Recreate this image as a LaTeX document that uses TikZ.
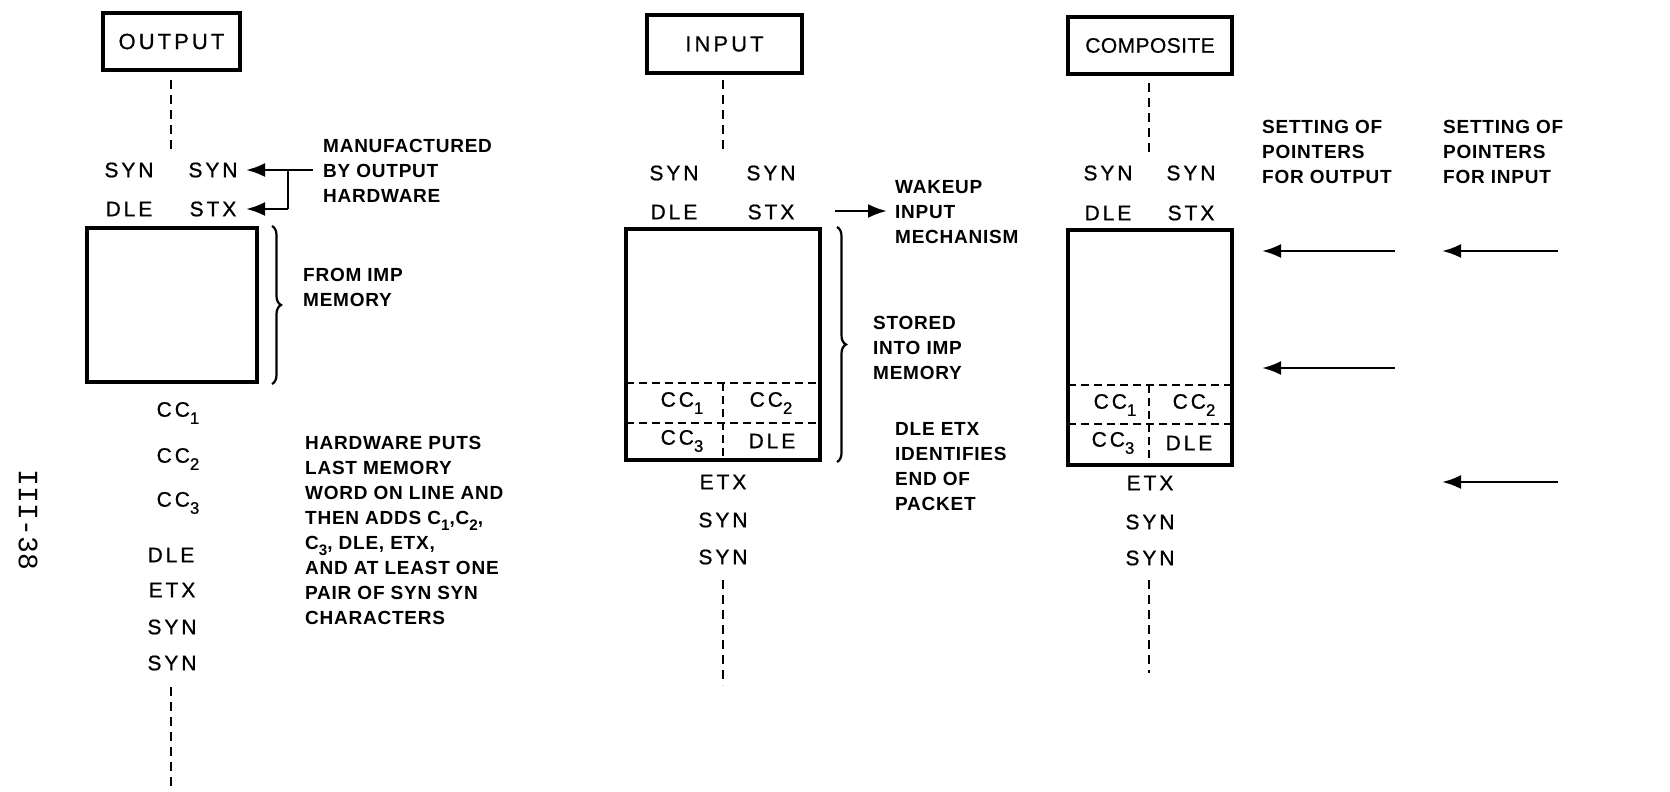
\documentclass[tikz,border=0pt]{standalone}
\usepackage{fontspec}
\setmainfont{Liberation Sans}
\newfontfamily\labfont[LetterSpace=14,FakeBold=0.8]{Liberation Sans}
\newfontfamily\titfont[LetterSpace=14,FakeBold=0.6]{Liberation Sans}
\newfontfamily\compfont[LetterSpace=2,FakeBold=0.6]{Liberation Sans}
\newfontfamily\notefont[LetterSpace=4]{Liberation Sans}
\newfontfamily\pagefont{Liberation Mono}
\usetikzlibrary{arrows.meta,decorations.pathreplacing}
\newcommand\subs[1]{\raisebox{-0.34em}{\scalebox{0.8}{#1}}}
\begin{document}
\begin{tikzpicture}[x=1pt,y=-1pt,
  lab/.style={font=\labfont\fontsize{21}{25}\selectfont, inner sep=0pt},
  note/.style={font=\notefont\bfseries\fontsize{19}{25}\selectfont, align=left, anchor=west, inner sep=0pt},
  titlebox/.style={draw, line width=3.4pt, inner sep=0pt, font=\titfont\fontsize{22}{25}\selectfont},
  membox/.style={draw, line width=4pt, inner sep=0pt},
  dashln/.style={line width=2.4pt, dash pattern=on 9pt off 6pt},
  celldash/.style={line width=2pt, dash pattern=on 8pt off 5pt},
  arr/.style={line width=2.6pt, -{Latex[length=19pt,width=14pt]}},
  plain/.style={line width=2.6pt},
  brc/.style={line width=2.2pt, decorate, decoration={brace, amplitude=9pt}},
]
\useasboundingbox (0,0) rectangle (1670,792);

% ---------------- OUTPUT column ----------------
\node[titlebox, minimum width=137, minimum height=57] (ob) at (171.5,41.5) {OUTPUT};
\coordinate (oda) at (171,80); \coordinate (odb) at (171,150);
\draw[dashln] (oda) -- (odb);
\node[lab] (os1) at (129,170) {SYN};
\node[lab] (os2) at (213,170) {SYN};
\node[lab] (odl) at (129,209) {DLE};
\node[lab] (ost) at (213,209) {STX};
\node[note] (manu) at (323,171) {MANUFACTURED\\BY OUTPUT\\HARDWARE};
\coordinate (ma) at (313,170); \coordinate (mj) at (288,209);
\coordinate (mt1) at (246,170); \coordinate (mt2) at (246,209);
\draw[arr] (ma) -- (mt1);
\draw[plain] (ma -| mj) -- (mj);
\draw[arr] (mj) -- (mt2);
\node[membox, minimum width=170, minimum height=154] (om) at (172,305) {};
\draw[brc] ([xshift=13]om.north east) -- ([xshift=13]om.south east);
\node[note] (fim) at (303,287) {FROM IMP\\MEMORY};
\node[lab] (oc1) at (178,413) {CC\subs{1}};
\node[lab] (oc2) at (178,459) {CC\subs{2}};
\node[lab] (oc3) at (178,503) {CC\subs{3}};
\node[lab] (odl2) at (171,555) {DLE};
\node[lab] (oetx) at (172,590) {ETX};
\node[lab] (osy1) at (172,627) {SYN};
\node[lab] (osy2) at (172,663) {SYN};
\coordinate (odc) at (171,687); \coordinate (odd) at (171,792);
\draw[dashln] (odc) -- (odd);
\node[note] (hw) at (305,530) {HARDWARE PUTS\\LAST MEMORY\\WORD ON LINE AND\\THEN ADDS C\subs{1},C\subs{2},\\C\subs{3}, DLE, ETX,\\AND AT LEAST ONE\\PAIR OF SYN SYN\\CHARACTERS};
\node[font=\pagefont\fontsize{28}{30}\selectfont, rotate=-90, inner sep=0pt] (pg) at (28,520) {III-38};

% ---------------- INPUT column ----------------
\node[titlebox, minimum width=155, minimum height=58] (ib) at (724.5,44) {INPUT};
\coordinate (ida) at (723,80); \coordinate (idb) at (723,152);
\draw[dashln] (ida) -- (idb);
\node[lab] (is1) at (674,173) {SYN};
\node[lab] (is2) at (771,173) {SYN};
\node[lab] (idl) at (674,212) {DLE};
\node[lab] (ist) at (771,212) {STX};
\coordinate (wa) at (835,211); \coordinate (wt) at (887,211);
\draw[arr] (wa) -- (wt);
\node[note] (wake) at (895,212) {WAKEUP\\INPUT\\MECHANISM};
\node[membox, minimum width=194, minimum height=231] (im) at (723,344.5) {};
\coordinate (ih1l) at (626,383); \coordinate (ih1r) at (820,383);
\coordinate (ih2l) at (626,423); \coordinate (ih2r) at (820,423);
\coordinate (ivt) at (723,383); \coordinate (ivb) at (723,460);
\draw[celldash] (ih1l) -- (ih1r);
\draw[celldash] (ih2l) -- (ih2r);
\draw[celldash] (ivt) -- (ivb);
\node[lab] (ic1) at (682,403) {CC\subs{1}};
\node[lab] (ic2) at (771,403) {CC\subs{2}};
\node[lab] (ic3) at (682,441) {CC\subs{3}};
\node[lab] (idl2) at (772,441) {DLE};
\draw[brc] ([xshift=15]im.north east) -- ([xshift=15]im.south east);
\node[note] (stor) at (873,348) {STORED\\INTO IMP\\MEMORY};
\node[note] (dlee) at (895,467) {DLE ETX\\IDENTIFIES\\END OF\\PACKET};
\node[lab] (ietx) at (723,482) {ETX};
\node[lab] (isy1) at (723,520) {SYN};
\node[lab] (isy2) at (723,557) {SYN};
\coordinate (idc) at (723,580); \coordinate (idd) at (723,685);
\draw[dashln] (idc) -- (idd);

% ---------------- COMPOSITE column ----------------
\node[titlebox, minimum width=164, minimum height=57, font=\compfont\fontsize{21}{25}\selectfont] (cb) at (1150,45.5) {COMPOSITE};
\coordinate (cda) at (1149,83); \coordinate (cdb) at (1149,153);
\draw[dashln] (cda) -- (cdb);
\node[lab] (cs1) at (1108,173) {SYN};
\node[lab] (cs2) at (1191,173) {SYN};
\node[lab] (cdl) at (1108,213) {DLE};
\node[lab] (cst) at (1191,213) {STX};
\node[membox, minimum width=164, minimum height=235] (cm) at (1150,347.5) {};
\coordinate (ch1l) at (1068,385); \coordinate (ch1r) at (1232,385);
\coordinate (ch2l) at (1068,424); \coordinate (ch2r) at (1232,424);
\coordinate (cvt) at (1149,385); \coordinate (cvb) at (1149,465);
\draw[celldash] (ch1l) -- (ch1r);
\draw[celldash] (ch2l) -- (ch2r);
\draw[celldash] (cvt) -- (cvb);
\node[lab] (cc1) at (1115,405) {CC\subs{1}};
\node[lab] (cc2) at (1194,405) {CC\subs{2}};
\node[lab] (cc3) at (1113,443) {CC\subs{3}};
\node[lab] (cdl2) at (1189,443) {DLE};
\node[lab] (cetx) at (1150,483) {ETX};
\node[lab] (csy1) at (1150,522) {SYN};
\node[lab] (csy2) at (1150,558) {SYN};
\coordinate (cdc) at (1149,580); \coordinate (cdd) at (1149,673);
\draw[dashln] (cdc) -- (cdd);

% ---------------- pointer arrows ----------------
\node[note] (spo) at (1262,152) {SETTING OF\\POINTERS\\FOR OUTPUT};
\node[note] (spi) at (1443,152) {SETTING OF\\POINTERS\\FOR INPUT};
\coordinate (po1s) at (1395,251); \coordinate (po1t) at (1262,251);
\coordinate (po2s) at (1395,368); \coordinate (po2t) at (1262,368);
\coordinate (pi1s) at (1558,251); \coordinate (pi1t) at (1442,251);
\coordinate (pi2s) at (1558,482); \coordinate (pi2t) at (1442,482);
\draw[arr] (po1s) -- (po1t);
\draw[arr] (po2s) -- (po2t);
\draw[arr] (pi1s) -- (pi1t);
\draw[arr] (pi2s) -- (pi2t);
\end{tikzpicture}
\end{document}
